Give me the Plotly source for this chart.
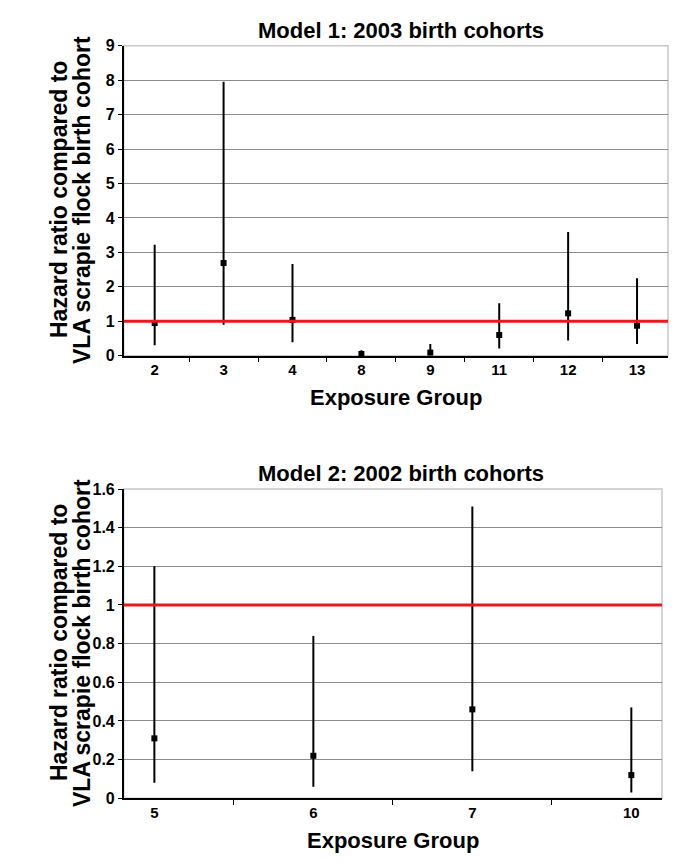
import plotly.graph_objects as go

# Model 1: 2003 birth cohorts
groups1 = ["2", "3", "4", "8", "9", "11", "12", "13"]
hr1 = [0.95, 2.69, 1.04, 0.05, 0.09, 0.60, 1.23, 0.87]
lo1 = [0.30, 0.90, 0.39, 0.01, 0.01, 0.21, 0.44, 0.34]
hi1 = [3.22, 7.95, 2.66, 0.16, 0.34, 1.52, 3.59, 2.25]

# Model 2: 2002 birth cohorts
groups2 = ["5", "6", "7", "10"]
hr2 = [0.31, 0.22, 0.46, 0.12]
lo2 = [0.08, 0.06, 0.14, 0.03]
hi2 = [1.20, 0.84, 1.51, 0.47]

ytitle_lines = ["Hazard ratio compared to", "VLA scrapie flock birth cohort"]

FONT = "Liberation Sans, Arial, sans-serif"
OFFX, OFFY = 6, 8            # page offset of the figure
W, H = 685 - 8, 867 - 8      # figure size inside the page

def px(sx):  # screen x -> paper fraction
    return (sx - OFFX) / W

def py(sy):  # screen y -> paper fraction
    return 1 - (sy - OFFY) / H

fig = go.Figure()

def add_series(groups, hr, lo, hi, xa, ya):
    fig.add_trace(go.Scatter(
        x=groups, y=hr, mode="markers",
        marker=dict(symbol="square", size=6, color="black"),
        error_y=dict(type="data", symmetric=False,
                     array=[h - v for h, v in zip(hi, hr)],
                     arrayminus=[v - l for v, l in zip(hr, lo)],
                     width=0, thickness=2, color="black"),
        xaxis=xa, yaxis=ya, showlegend=False, cliponaxis=False))

add_series(groups1, hr1, lo1, hi1, "x", "y")
add_series(groups2, hr2, lo2, hi2, "x2", "y2")

xtickfont = dict(family=FONT, size=15, color="black", weight="bold")
ytickfont = dict(family=FONT, size=16, color="black", weight="bold")

common_x = dict(type="category", showline=True, linecolor="black", linewidth=1.5,
                ticks="outside", tickson="boundaries", ticklen=5, tickcolor="black",
                showgrid=False, tickfont=xtickfont, automargin=False)
common_y = dict(showline=True, linecolor="black", linewidth=1.5,
                ticks="outside", ticklen=4, tickcolor="black",
                showgrid=True, gridcolor="#8c8c8c", gridwidth=1,
                tickfont=ytickfont, zeroline=False, automargin=False)

fig.update_layout(
    width=W, height=H,
    margin=dict(l=0, r=0, t=0, b=0, autoexpand=False),
    paper_bgcolor="white", plot_bgcolor="white",
    font=dict(family=FONT, color="black"),
    xaxis=dict(domain=[px(121.7), px(666)], anchor="y", **common_x),
    yaxis=dict(domain=[py(355.7), py(45.7)], anchor="x", range=[0, 9], dtick=1, **common_y),
    xaxis2=dict(domain=[px(121.7), px(660)], anchor="y2", **common_x),
    yaxis2=dict(domain=[py(798.3), py(489)], anchor="x2", range=[0, 1.6], dtick=0.2,
                tickformat="~g", **common_y),
)

for xr, yr in [("x", "y"), ("x2", "y2")]:
    fig.add_shape(type="rect", xref=f"{xr} domain", yref=f"{yr} domain",
                  x0=0, x1=1, y0=0, y1=1, line=dict(color="#c8c8c8", width=1.5),
                  layer="below")
    fig.add_shape(type="line", xref=f"{xr} domain", yref=yr,
                  x0=0, x1=1, y0=1, y1=1, line=dict(color="#e8191c", width=3),
                  layer="above")

def ann(text, x, y, size, angle=0):
    fig.add_annotation(text=text, xref="paper", yref="paper", x=px(x), y=py(y),
                       xanchor="center", yanchor="middle", showarrow=False,
                       textangle=angle, font=dict(family=FONT, size=size, color="black"))

ann("<b>Model 1: 2003 birth cohorts</b>", 399, 31, 22)
ann("<b>Model 2: 2002 birth cohorts</b>", 399, 473, 22)
ann("<b>Exposure Group</b>", 394, 398, 22)
ann("<b>Exposure Group</b>", 391, 840, 22)
for cy in (200, 643):
    ann(f"<b>{ytitle_lines[0]}</b>", 57, cy, 23, -90)
    ann(f"<b>{ytitle_lines[1]}</b>", 80, cy, 23, -90)

fig.write_html("out.html")
